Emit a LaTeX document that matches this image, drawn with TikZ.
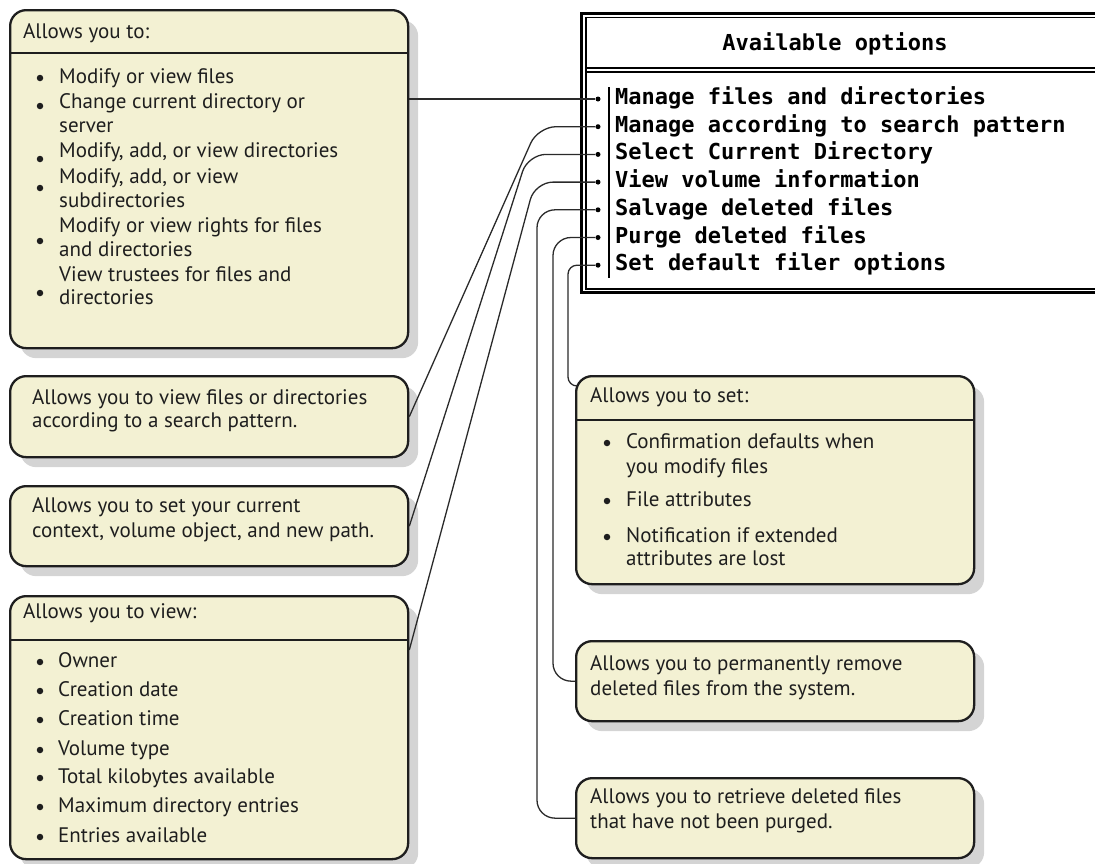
\documentclass[tikz,border=0pt]{standalone}
\usepackage{fontspec}
\newfontfamily\notefont{PT Sans}
\newfontfamily\menufont{DejaVu Sans Mono}
\usetikzlibrary{positioning,calc,shadows}
\definecolor{notefill}{HTML}{F3F1D3}
\definecolor{noteline}{HTML}{1E1E1E}
\definecolor{shadowgray}{HTML}{D4D4D4}
\definecolor{linkgray}{HTML}{2A2A2A}

\begin{document}
\begin{tikzpicture}[
  x=1pt, y=-1pt,
  note/.style={draw=noteline, line width=2.3pt, fill=notefill, rounded corners=16pt,
    anchor=north west, inner sep=0pt, minimum width=398pt,
    drop shadow={shadow xshift=10pt, shadow yshift=-10pt, fill=shadowgray, opacity=1}},
  hdr/.style={draw=noteline, line width=2.3pt},
  txt/.style={anchor=west, inner sep=0pt, text height=14pt, text depth=4pt,
    font=\notefont\fontsize{21}{25}\selectfont, text=noteline},
  bul/.style={circle, fill=noteline, inner sep=0pt, minimum size=6.5pt},
  item/.style={anchor=west, inner sep=0pt, text height=16pt, text depth=5pt,
    font=\menufont\bfseries\fontsize{22}{26}\selectfont},
  mdot/.style={circle, fill=black, inner sep=0pt, minimum size=5pt},
  link/.style={draw=linkgray, line width=1.3pt, rounded corners=18pt}
]
\useasboundingbox (0,0) rectangle (1095,863);

% menu window
\draw[line width=3pt] (1095,13.5) -- (581,13.5) -- (581,292.5) -- (1095,292.5);
\draw[line width=1.3pt] (1095,17.5) -- (586,17.5) -- (586,289) -- (1095,289);
\draw[line width=1.3pt] (586,68) -- (1095,68);
\draw[line width=1.3pt] (586,72) -- (1095,72);
\draw[line width=2pt] (609,87) -- (609,278);
\node[item, anchor=center] (title) at (835,45) {Available options};

\node[item] (m1) at (615,99) {Manage files and directories};
\node[item] (m2) at (615,126.7) {Manage according to search pattern};
\node[item] (m3) at (615,154.4) {Select Current Directory};
\node[item] (m4) at (615,182.1) {View volume information};
\node[item] (m5) at (615,209.8) {Salvage deleted files};
\node[item] (m6) at (615,237.5) {Purge deleted files};
\node[item] (m7) at (615,265.2) {Set default filer options};
\foreach \i in {1,...,7} \node[mdot] (d\i) at (598,0 |- m\i) {};

% notes on the left
\node[note, minimum height=338pt] (manage) at (9,9) {};
\draw[hdr] ($(manage.north west)+(0,44)$) -- ($(manage.north east)+(0,44)$);
\node[txt] (manage-h) at (23,33) {Allows you to:};
\foreach \y/\t [count=\i] in {78/Modify or view files, 103/Change current directory or,
    127/server, 152/{Modify, add, or view directories}, 178/{Modify, add, or view},
    202/subdirectories, 227/Modify or view rights for files, 251/and directories,
    276/View trustees for files and, 299/directories}
  \node[txt] (manage-\i) at (59,\y) {\t};
\foreach \y in {78,106,159,188,241,293} \node[bul] at (40,\y) {};

\node[note, minimum height=81pt] (search) at (9,375) {};
\node[txt] (search-1) at (32,399) {Allows you to view files or directories};
\node[txt] (search-2) at (32,422) {according to a search pattern.};

\node[note, minimum height=80pt] (current) at (9,485) {};
\node[txt] (current-1) at (32,507) {Allows you to set your current};
\node[txt] (current-2) at (32,532) {context, volume object, and new path.};

\node[note, minimum height=263pt] (volume) at (9,595) {};
\draw[hdr] ($(volume.north west)+(0,45)$) -- ($(volume.north east)+(0,45)$);
\node[txt] (volume-h) at (23,613) {Allows you to view:};
\foreach \y/\t [count=\i] in {662/Owner, 691/Creation date, 720/Creation time, 750/Volume type,
    778/Total kilobytes available, 807/Maximum directory entries, 837/Entries available}
  {\node[txt] (volume-\i) at (58,\y) {\t};
   \node[bul] at (40,\y) {};}

% notes on the right
\node[note, minimum height=208pt] (options) at (575,375) {};
\draw[hdr] ($(options.north west)+(0,45)$) -- ($(options.north east)+(0,45)$);
\node[txt] (options-h) at (590,397) {Allows you to set:};
\foreach \y/\t [count=\i] in {443/Confirmation defaults when, 468/you modify files,
    501/File attributes, 537/Notification if extended, 560/attributes are lost}
  \node[txt] (options-\i) at (626,\y) {\t};
\foreach \y in {443,501,537} \node[bul] at (607,\y) {};

\node[note, minimum height=80pt] (purge) at (575,640) {};
\node[txt] (purge-1) at (590,665) {Allows you to permanently remove};
\node[txt] (purge-2) at (590,690) {deleted files from the system.};

\node[note, minimum height=80pt] (salvage) at (575,777) {};
\node[txt] (salvage-1) at (590,798) {Allows you to retrieve deleted files};
\node[txt] (salvage-2) at (590,823) {that have not been purged.};

% connectors
\draw[link] (manage.east |- d1) -- (d1);
\draw[link] (d2) -- ++(-60,0) -- (search.east);
\draw[link] (d3) -- ++(-70,0) -- (current.east);
\draw[link] (d4) -- ++(-63,0) -- ($(volume.north east)+(0,55)$);
\draw[link] (d5) -- ++(-61,0) |- (salvage.west);
\draw[link] (d6) -- ++(-45,0) |- (purge.west);
\draw[link, rounded corners=9pt] (d7) -- ++(-30,0) |- ($(options.north west)+(2,11)$);
\end{tikzpicture}
\end{document}
